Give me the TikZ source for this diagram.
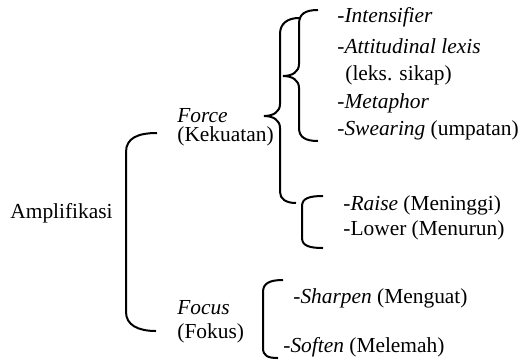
\documentclass[tikz,border=0pt]{standalone}
\usepackage{fontspec}
\setmainfont{Liberation Serif}[ItalicFont={Liberation Serif Italic},BoldFont={Liberation Serif Bold}]
\usepackage{tikz}

\begin{document}
\begin{tikzpicture}[x=0.5pt,y=-0.5pt,lbl/.style={anchor=west,inner sep=0pt,font=\fontsize{10.7}{12}\selectfont},brk/.style={line width=1pt}]
\useasboundingbox (0,0) rectangle (522,360);
% labels
\node[lbl] (amp) at (10,213) {Amplifikasi};
\node[lbl] (force) at (177,116) {\textit{Force}};
\node[lbl] (kekuatan) at (177,136) {(Kekuatan)};
\node[lbl] (focus) at (177,308) {\textit{Focus}};
\node[lbl] (fokus) at (177,333) {(Fokus)};
\node[lbl] (intens) at (337,17) {-\textit{Intensifier}};
\node[lbl] (attit) at (337,46) {-\textit{Attitudinal lexis}};
\node[lbl] (leks) at (345,75) {(leks. sikap)};
\node[lbl] (metaphor) at (337,103) {-\textit{Metaphor}};
\node[lbl] (swear) at (337,130) {-\textit{Swearing} (umpatan)};
\node[lbl] (raise) at (343,205) {-\textit{Raise} (Meninggi)};
\node[lbl] (lower) at (343,230) {-Lower (Menurun)};
\node[lbl] (sharpen) at (293,298) {-\textit{Sharpen} (Menguat)};
\node[lbl] (soften) at (283,347) {-\textit{Soften} (Melemah)};
% brackets
\draw[brk] (157,133) .. controls (138,133) and (126,138) .. (126,152) -- (126,312) .. controls (126,325) and (138,331) .. (156,331);
\draw[brk] (299,18) .. controls (287,18) and (280,24) .. (280,34) -- (280,104) .. controls (280,112) and (273,116) .. (264,116) .. controls (273,116) and (280,120) .. (280,128) -- (280,192) .. controls (280,199) and (286,203) .. (296,203);
\draw[brk] (318,10) .. controls (305,10) and (299,14) .. (299,24) -- (299,64) .. controls (299,72) and (292,76) .. (283,76) .. controls (292,76) and (299,80) .. (299,88) -- (299,128) .. controls (299,137) and (305,141) .. (318,141);
\draw[brk] (323,196) .. controls (310,196) and (302,198) .. (302,206) -- (302,238) .. controls (302,246) and (310,248) .. (323,248);
\draw[brk] (283,280) .. controls (270,280) and (263,283) .. (263,292) -- (263,348) .. controls (263,356) and (268,358) .. (278,358);
\end{tikzpicture}
\end{document}
